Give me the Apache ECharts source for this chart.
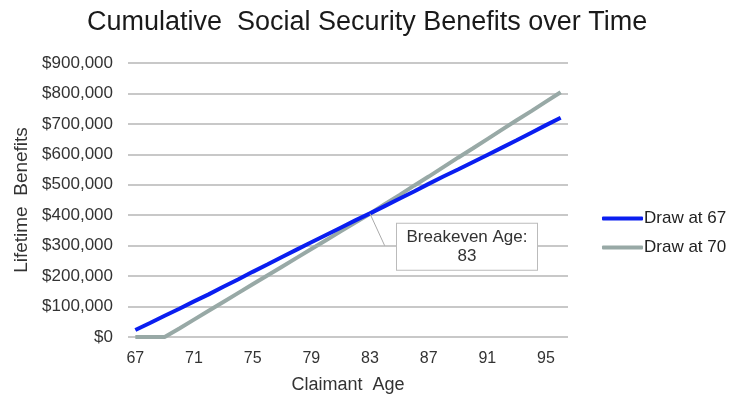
<!DOCTYPE html>
<html>
<head>
<meta charset="utf-8">
<script src="https://cdn.jsdelivr.net/npm/echarts@6/dist/echarts.min.js"></script>
<style>
  html, body { margin: 0; padding: 0; background: #fff; }
  #chart { width: 743px; height: 396px; }
</style>
</head>
<body>
<div id="chart"></div>
<script>
// claimant ages (x categories)
var ages = ['67', '68', '69', '70', '71', '72', '73', '74', '75', '76',
  '77', '78', '79', '80', '81', '82', '83', '84', '85', '86',
  '87', '88', '89', '90', '91', '92', '93', '94', '95', '96']

// cumulative benefits
var drawAt67 = [23000, 46000, 70000, 93000, 117000, 140000, 165000, 189000, 214000, 238000,
  263000, 287000, 311000, 335000, 359000, 383000, 406000, 430000, 454000, 478000,
  503000, 527000, 550000, 574000, 598000, 622000, 646000, 671000, 696000, 720000]
var drawAt70 = [0, 0, 0, 28000, 57000, 86000, 115000, 144000, 173000, 202000,
  231000, 260000, 289000, 318000, 347000, 376000, 405000, 436000, 466000, 497000,
  527000, 558000, 589000, 619000, 650000, 681000, 712000, 742000, 773000, 804000]

var breakevenAge = '83'
var breakevenValue = 405000

var font = 'Liberation Sans, Arial, sans-serif'
var chart = echarts.init(document.getElementById('chart'))

chart.setOption({
  animation: false,
  textStyle: { fontFamily: font },
  title: {
    text: 'Cumulative  Social Security Benefits over Time',
    left: 82,
    top: 4,
    textStyle: { fontSize: 27, fontWeight: 'normal', color: '#1a1a1a', fontFamily: font }
  },
  legend: {
    orient: 'vertical',
    left: 597,
    top: 205,
    itemWidth: 41,
    itemHeight: 4,
    itemGap: 12,
    icon: 'roundRect',
    textStyle: { fontSize: 17, color: '#222', padding: [0, 0, 0, -4] },
    data: ['Draw at 67', 'Draw at 70']
  },
  grid: {
    left: 128,
    right: 175,
    top: 63,
    bottom: 59,
    outerBoundsMode: 'none'
  },
  xAxis: {
    type: 'category',
    data: ages,
    boundaryGap: true,
    name: 'Claimant  Age',
    nameLocation: 'middle',
    nameGap: 39,
    nameTextStyle: { fontSize: 18, color: '#333' },
    axisLine: { show: false },
    axisTick: { show: false },
    axisLabel: { interval: 3, fontSize: 16, color: '#333', margin: 14 }
  },
  yAxis: {
    type: 'value',
    min: 0,
    max: 900000,
    interval: 100000,
    name: 'Lifetime  Benefits',
    nameLocation: 'middle',
    nameGap: 94,
    nameTextStyle: { fontSize: 19, color: '#333' },
    axisLabel: {
      fontSize: 17,
      color: '#333',
      margin: 15,
      formatter: function(v) { return '$' + v.toLocaleString('en-US') }
    },
    splitLine: { lineStyle: { color: '#c8c8c8', width: 2 } }
  },
  series: [
    {
      name: 'Draw at 67',
      type: 'line',
      data: drawAt67,
      showSymbol: false,
      symbol: 'none',
      color: '#0a1ef0',
      lineStyle: { width: 4, color: '#0a1ef0' },
      z: 3
    },
    {
      name: 'Draw at 70',
      type: 'line',
      data: drawAt70,
      showSymbol: false,
      symbol: 'none',
      color: '#98a9a6',
      lineStyle: { width: 4, color: '#98a9a6' },
      z: 2,
      markLine: {
        silent: true,
        symbol: 'none',
        label: { show: false },
        lineStyle: { color: '#aaa', width: 1, type: 'solid' },
        data: [
          [{ coord: [breakevenAge, breakevenValue] }, { coord: ['84', 300000] }]
        ]
      },
      markPoint: {
        silent: true,
        symbolSize: 0,
        data: [{ coord: [breakevenAge, breakevenValue] }],
        label: {
          show: true,
          position: 'inside',
          offset: [97, 33],
          formatter: 'Breakeven Age:\n' + breakevenAge,
          fontSize: 17,
          lineHeight: 19,
          color: '#333',
          align: 'center',
          backgroundColor: '#fff',
          borderColor: '#bbb',
          borderWidth: 1,
          width: 126,
          padding: [4, 7, 4, 7]
        }
      }
    }
  ]
})
</script>
</body>
</html>
